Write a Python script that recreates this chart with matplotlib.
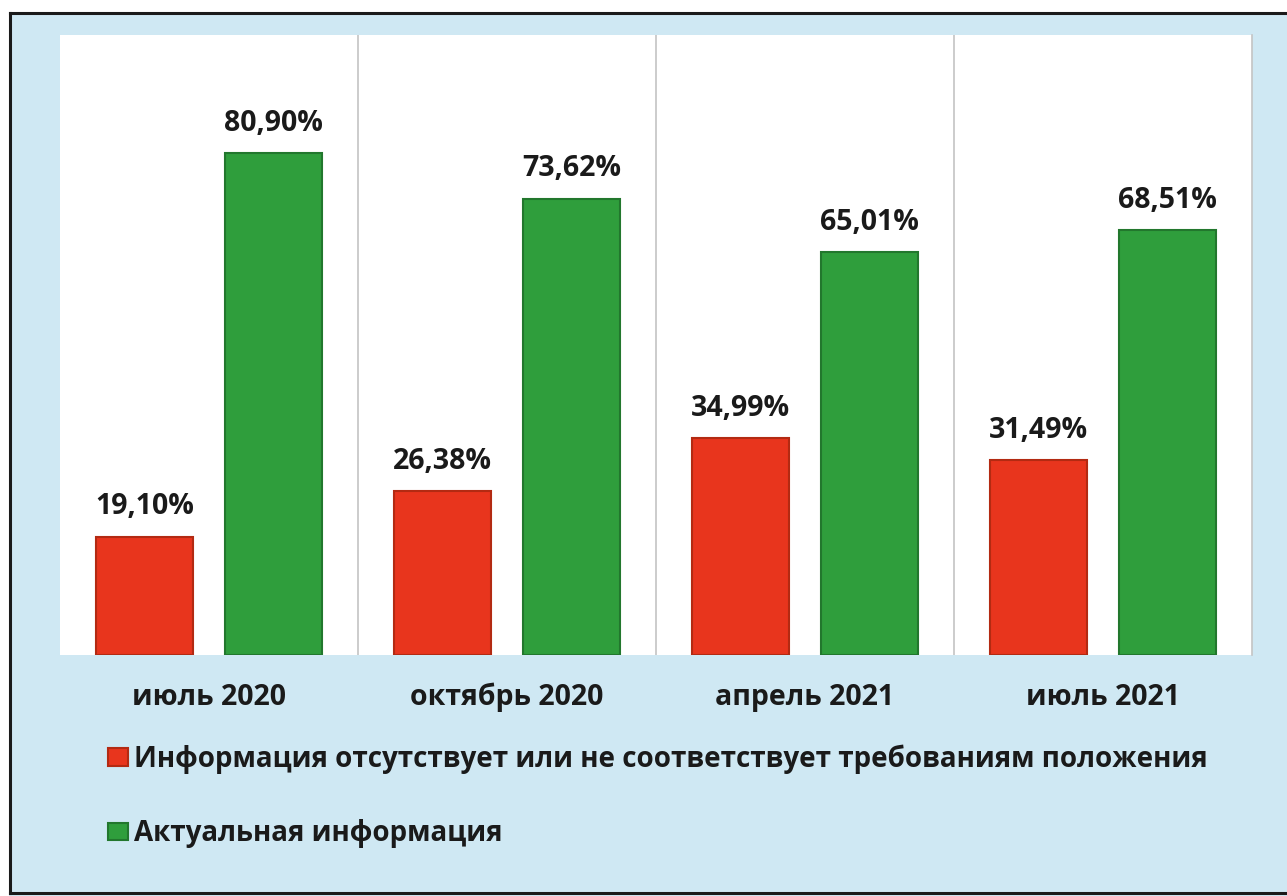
import matplotlib
matplotlib.use("Agg")
import matplotlib.pyplot as plt
from matplotlib.patches import Rectangle
from matplotlib.lines import Line2D
import numpy as np

categories = ["июль 2020", "октябрь 2020", "апрель 2021", "июль 2021"]
missing_info = [19.10, 26.38, 34.99, 31.49]
actual_info = [80.90, 73.62, 65.01, 68.51]
series_names = ["Информация отсутствует или не соответствует требованиям положения",
                "Актуальная информация"]

plt.rcParams['font.family'] = ['Open Sans', 'DejaVu Sans']

BG = "#cfe8f3"
RED = "#e8351d"
GREEN = "#2f9e3c"

fig = plt.figure(figsize=(12.87, 8.96), dpi=100)
fig.patch.set_facecolor(BG)

ax = fig.add_axes([60/1287, 1-655/896, (1252-60)/1287, (655-35)/896])
ax.set_facecolor("white")

x = np.arange(len(categories))
w = 0.327
off = 0.217
b1 = ax.bar(x - off, missing_info, w, color=RED, edgecolor="#b32a12", linewidth=1.5,
            label=series_names[0], zorder=3)
b2 = ax.bar(x + off, actual_info, w, color=GREEN, edgecolor="#22772d", linewidth=1.5,
            label=series_names[1], zorder=3)

for bars, vals in ((b1, missing_info), (b2, actual_info)):
    for r, v in zip(bars, vals):
        ax.annotate(f"{v:.2f}%".replace(".", ","),
                    (r.get_x() + r.get_width()/2, r.get_height()),
                    xytext=(0, 16), textcoords="offset points",
                    ha="center", va="baseline", fontsize=20.5, fontweight="bold",
                    color="#1a1a1a")

ax.set_xlim(-0.5, len(categories) - 0.5)
ax.set_ylim(0, 100)
ax.set_yticks([])
ax.set_xticks(x)
ax.set_xticklabels(categories, fontsize=20.5, fontweight="bold", color="#1a1a1a")
ax.tick_params(axis="x", length=0, pad=20)
for s in ("top", "left", "bottom"):
    ax.spines[s].set_visible(False)
ax.spines["right"].set_color("#c4c4c4")
ax.spines["right"].set_linewidth(1.2)
for xv in x[:-1] + 0.5:
    ax.axvline(xv, color="#c4c4c4", linewidth=1.2, zorder=1)

leg = fig.legend(handles=[b1, b2], labels=series_names, loc="upper left",
                 bbox_to_anchor=(97/1287, 1-733/896), frameon=False,
                 prop={"size": 20, "weight": "bold"}, handlelength=0.7,
                 handleheight=0.6, handletextpad=0.25, labelspacing=1.65,
                 borderaxespad=0)
for t in leg.get_texts():
    t.set_color("#1a1a1a")

# outer frame border
fig.add_artist(Line2D([10/1287, 10/1287], [1-893/896, 1-13/896], transform=fig.transFigure,
                      color="#1a1a1a", linewidth=2.2))
fig.add_artist(Line2D([10/1287, 1.0], [1-13/896, 1-13/896], transform=fig.transFigure,
                      color="#1a1a1a", linewidth=2.2))
fig.add_artist(Line2D([10/1287, 1.0], [1-893/896, 1-893/896], transform=fig.transFigure,
                      color="#1a1a1a", linewidth=2.2))
# white paper strip outside the frame
fig.add_artist(Rectangle((0, 1-12/896), 1, 12/896, transform=fig.transFigure,
                         facecolor="white", edgecolor="none", zorder=-1))
fig.add_artist(Rectangle((0, 0), 9/1287, 1, transform=fig.transFigure,
                         facecolor="white", edgecolor="none", zorder=-1))

fig.savefig("out.png", dpi=100, facecolor=fig.get_facecolor())
